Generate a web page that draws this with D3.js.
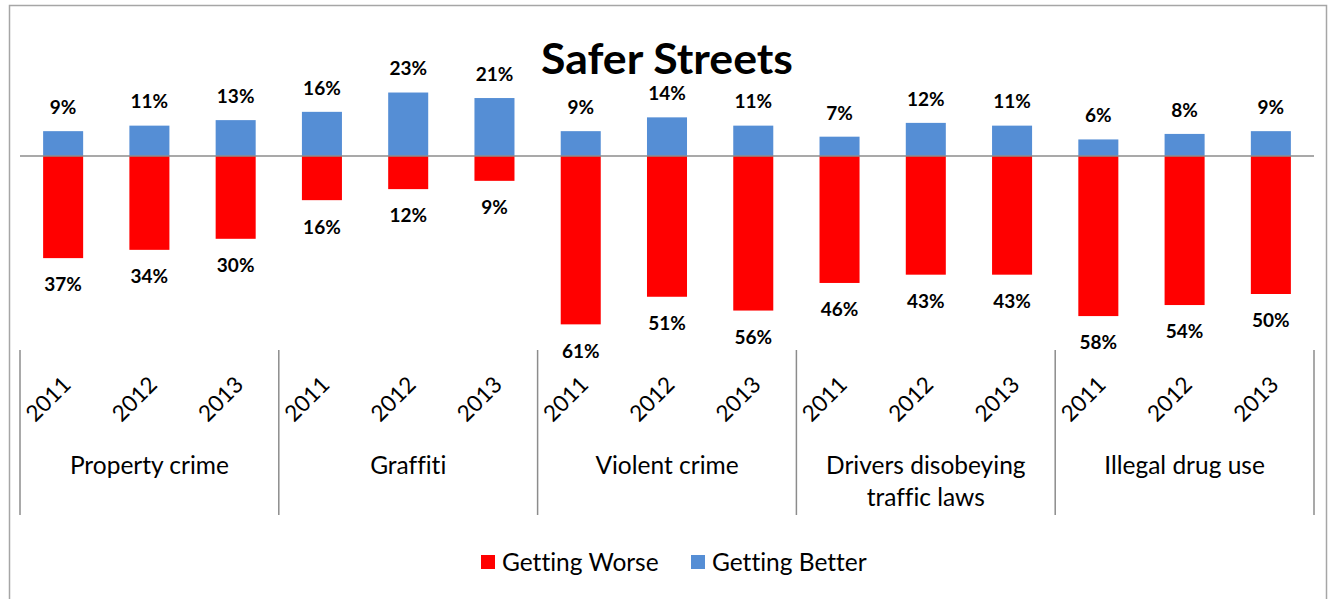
<!DOCTYPE html>
<html>
<head>
<meta charset="utf-8">
<script src="https://cdn.jsdelivr.net/npm/d3@7"></script>
<style>
  html, body { margin: 0; padding: 0; background: #fff; overflow: hidden; }
  svg { display: block; }
  text { font-variant-ligatures: none; font-feature-settings: "liga" 0; }
</style>
</head>
<body>
<svg id="chart" width="1331" height="599"></svg>
<script>
// ---- data ----
const categories = ["Property crime", "Graffiti", "Violent crime", "Drivers disobeying traffic laws", "Illegal drug use"];
const categoryLines = [["Property crime"], ["Graffiti"], ["Violent crime"], ["Drivers disobeying", "traffic laws"], ["Illegal drug use"]];
const years = ["2011", "2012", "2013"];
const gettingBetter = [9, 11, 13, 16, 23, 21, 9, 14, 11, 7, 12, 11, 6, 8, 9];
const gettingWorse = [37, 34, 30, 16, 12, 9, 61, 51, 56, 46, 43, 43, 58, 54, 50];
const seriesNames = ["Getting Worse", "Getting Better"];
const seriesColors = ["#FF0000", "#558ED5"];
const title = "Safer Streets";

// ---- layout ----
const svg = d3.select("#chart");
const FONT = "Lato, 'Open Sans', sans-serif";
const plotLeft = 20, plotRight = 1314;

const keys = [];
categories.forEach((c, ci) => years.forEach((y, yi) => keys.push(ci * 3 + yi)));

const x = d3.scaleBand().domain(keys).range([plotLeft, plotRight])
  .paddingInner(0.536).paddingOuter(0.268);
const xg = d3.scaleBand().domain(d3.range(categories.length)).range([plotLeft, plotRight]);
const y = d3.scaleLinear().domain([-70, 30]).range([349.2, 73.2]);

// chart border
svg.append("rect").attr("x", 9.5).attr("y", 5.5).attr("width", 1317).attr("height", 640)
  .attr("fill", "none").attr("stroke", "#A6A6A6").attr("stroke-width", 1.5);

// title
svg.append("text").attr("x", 667).attr("y", 74).attr("text-anchor", "middle")
  .attr("font-family", FONT).attr("font-weight", 700).attr("font-size", 42)
  .attr("textLength", 252).attr("lengthAdjust", "spacingAndGlyphs")
  .attr("fill", "#000").text(title);

// bars - getting better (positive)
svg.append("g").selectAll("rect").data(gettingBetter).join("rect")
  .attr("x", (d, i) => x(keys[i])).attr("width", x.bandwidth())
  .attr("y", d => y(d)).attr("height", d => y(0) - y(d))
  .attr("fill", seriesColors[1]);

// bars - getting worse (negative)
svg.append("g").selectAll("rect").data(gettingWorse).join("rect")
  .attr("x", (d, i) => x(keys[i])).attr("width", x.bandwidth())
  .attr("y", y(0)).attr("height", d => y(-d) - y(0))
  .attr("fill", seriesColors[0]);

// zero axis line
svg.append("line").attr("x1", plotLeft).attr("x2", plotRight)
  .attr("y1", y(0)).attr("y2", y(0))
  .attr("stroke", "#8C8C8C").attr("stroke-width", 1.5);

// data labels
svg.append("g").selectAll("text").data(gettingBetter).join("text")
  .attr("x", (d, i) => x(keys[i]) + x.bandwidth() / 2)
  .attr("y", d => y(d) - 24).attr("dy", "0.36em")
  .attr("text-anchor", "middle").attr("font-family", FONT)
  .attr("font-weight", 700).attr("font-size", 19).attr("fill", "#000")
  .text(d => d + "%");
svg.append("g").selectAll("text").data(gettingWorse).join("text")
  .attr("x", (d, i) => x(keys[i]) + x.bandwidth() / 2)
  .attr("y", d => y(-d) + 26.5).attr("dy", "0.36em")
  .attr("text-anchor", "middle").attr("font-family", FONT)
  .attr("font-weight", 700).attr("font-size", 19).attr("fill", "#000")
  .text(d => d + "%");

// category axis: separators
const bounds = d3.range(categories.length).map(i => xg(i)).concat([plotRight]);
svg.append("g").selectAll("line").data(bounds).join("line")
  .attr("x1", d => d).attr("x2", d => d).attr("y1", 350).attr("y2", 515)
  .attr("stroke", "#8C8C8C").attr("stroke-width", 1.5);

// year labels rotated
svg.append("g").selectAll("text").data(keys).join("text")
  .attr("transform", k => `translate(${x(k) + x.bandwidth() / 2 + 9},386) rotate(-45)`)
  .attr("text-anchor", "end").attr("font-family", FONT).attr("font-size", 22.5)
  .attr("fill", "#000").text(k => years[k % 3]);

// group labels
categoryLines.forEach((lines, i) => {
  const cx = xg(i) + xg.bandwidth() / 2;
  const t = svg.append("text").attr("x", cx).attr("y", 474)
    .attr("text-anchor", "middle").attr("font-family", FONT).attr("font-size", 24.5).attr("fill", "#000");
  lines.forEach((ln, j) => t.append("tspan").attr("x", cx).attr("y", 474 + j * 32).text(ln));
});

// legend
const legendItems = [{ name: seriesNames[0], color: seriesColors[0], x: 481 }, { name: seriesNames[1], color: seriesColors[1], x: 691 }];
const lg = svg.append("g");
legendItems.forEach(it => {
  lg.append("rect").attr("x", it.x).attr("y", 555).attr("width", 14).attr("height", 14).attr("fill", it.color);
  lg.append("text").attr("x", it.x + 21).attr("y", 570.5).attr("font-family", FONT).attr("font-size", 24.5)
    .attr("fill", "#000").text(it.name);
});
</script>
</body>
</html>
